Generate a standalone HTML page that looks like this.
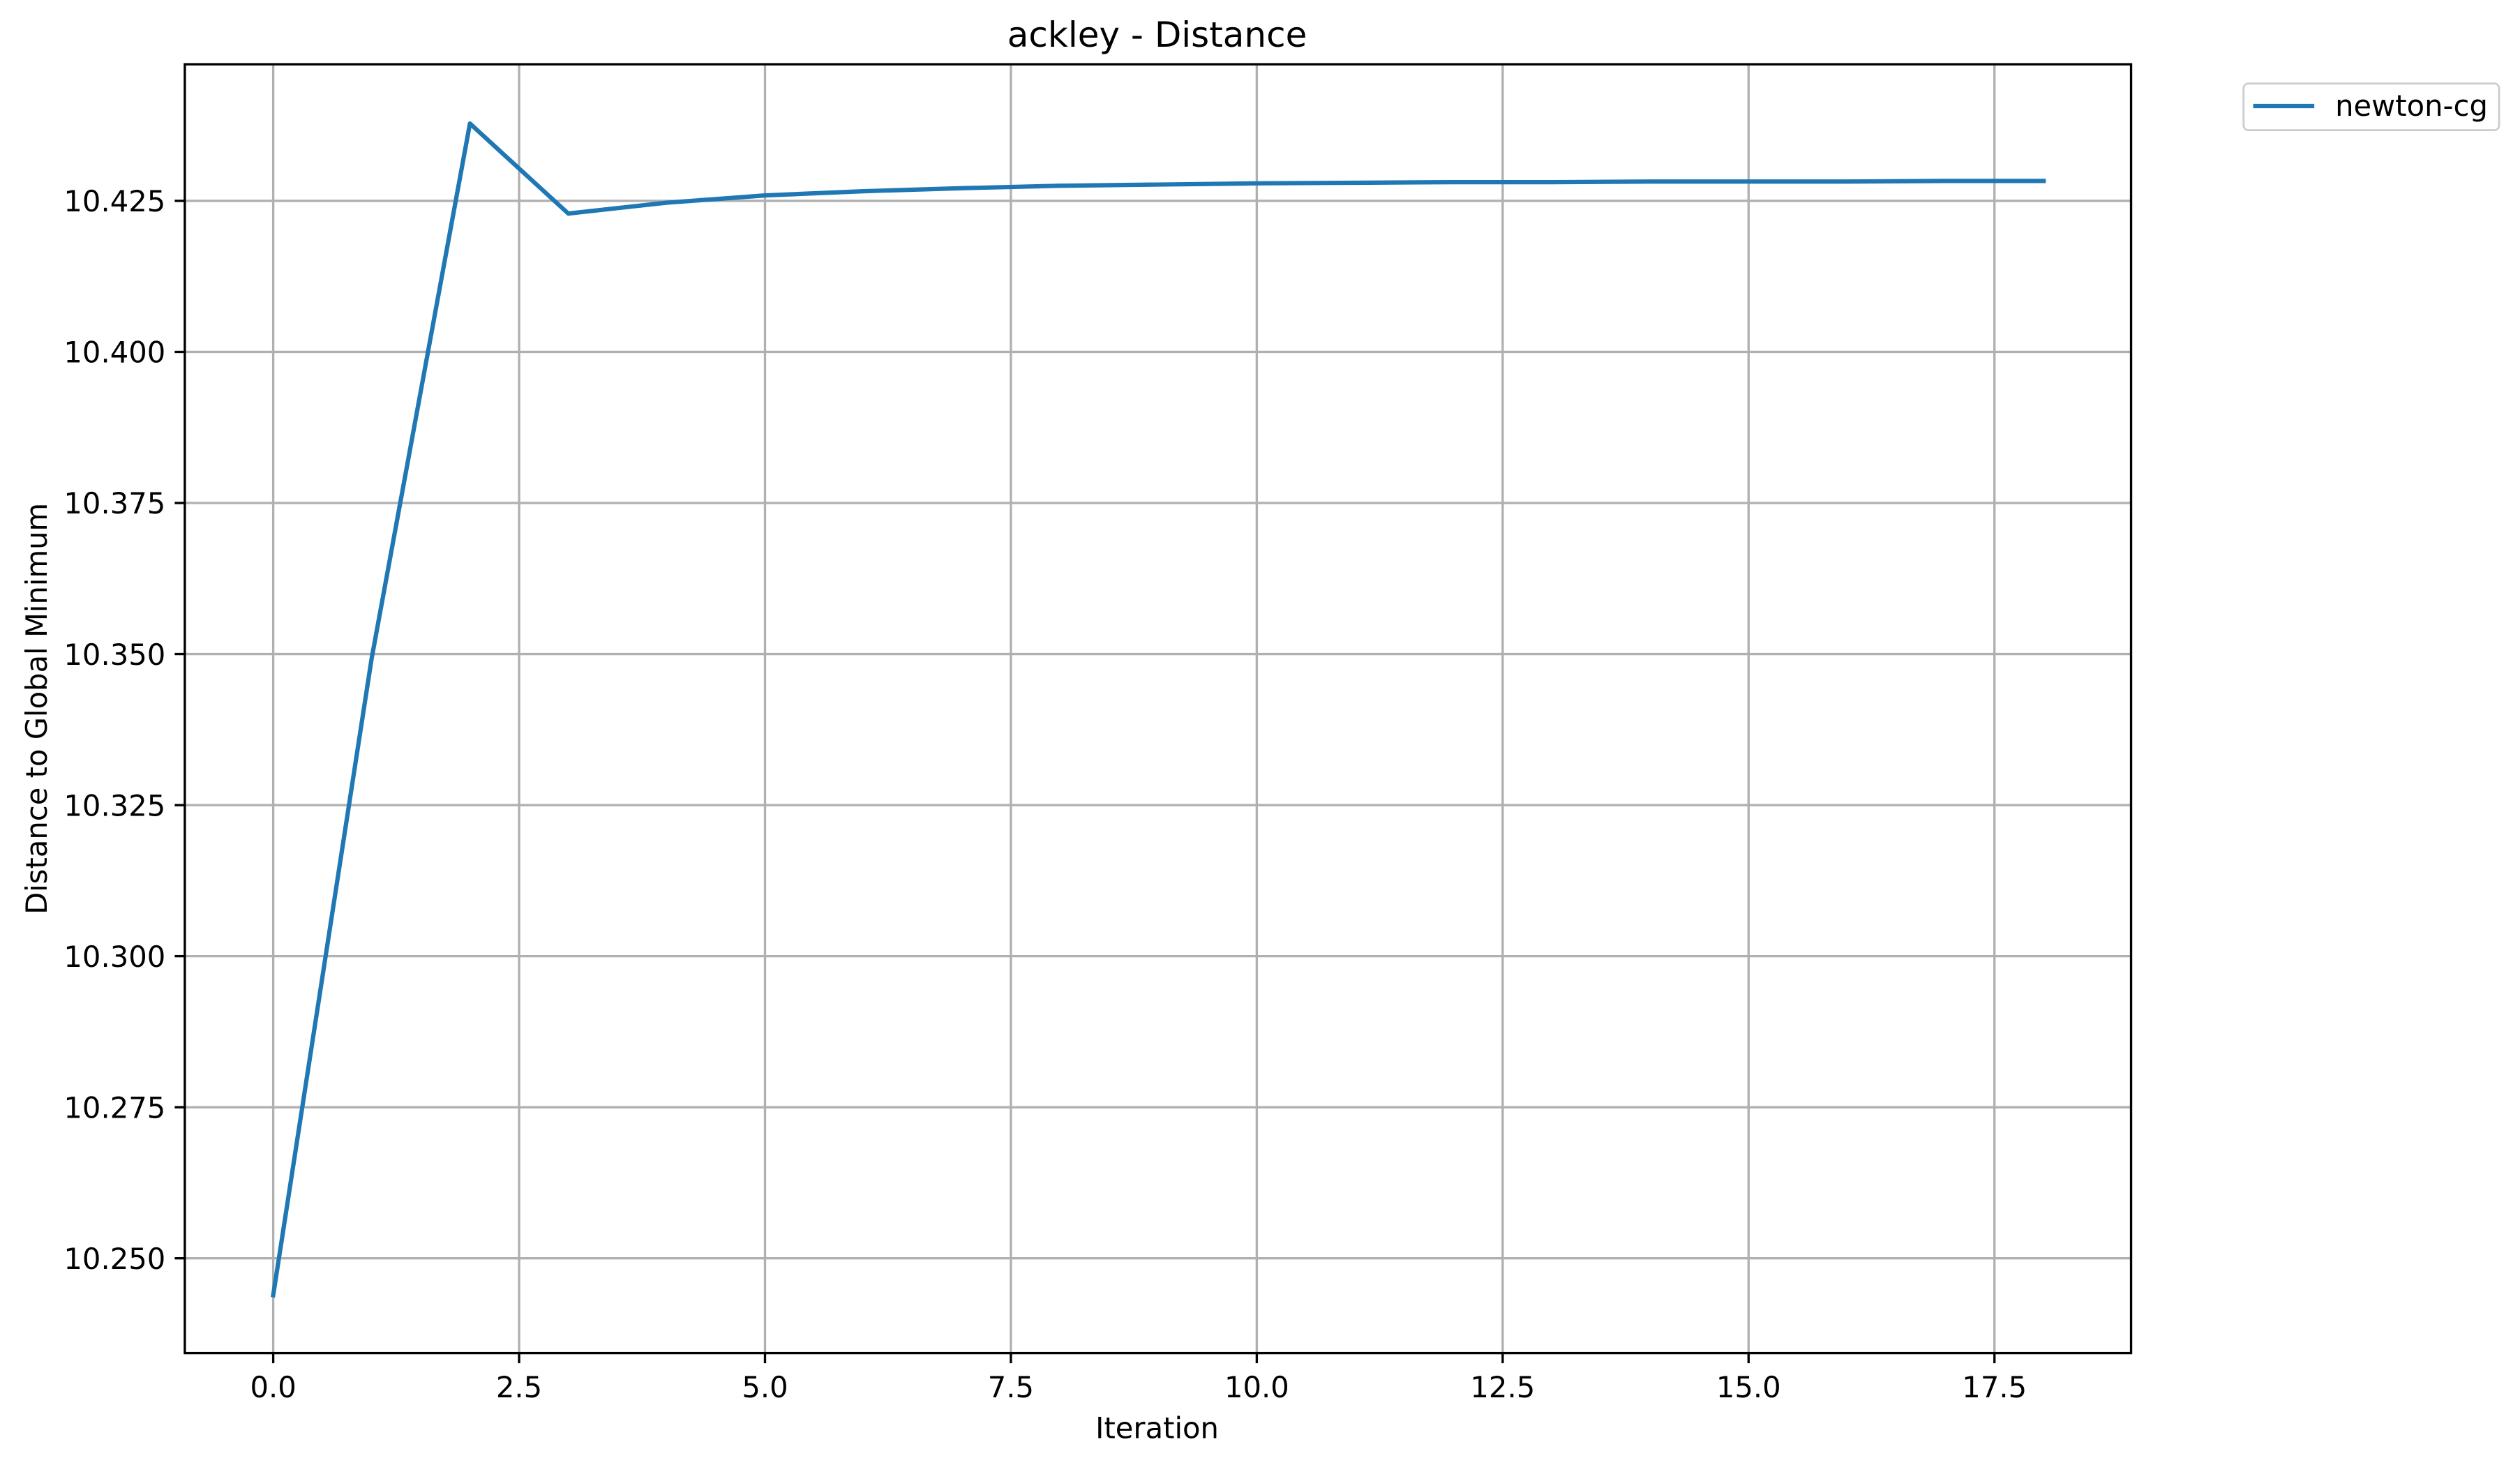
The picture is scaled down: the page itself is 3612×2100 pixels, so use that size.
<!DOCTYPE html>
<html><head><meta charset="utf-8"><style>
html,body{margin:0;padding:0;background:#fff;}
svg{display:block;font-family:"DejaVu Sans","Liberation Sans",sans-serif;}
</style></head><body>
<svg id="chart" width="3612" height="2100" viewBox="0 0 1568 911.63" xmlns="http://www.w3.org/2000/svg">
<rect width="1568" height="911.63" fill="#fff"/>
<g id="grid"></g>
<g id="xt"></g>
<g id="yt"></g>
<polyline id="series" fill="none" stroke="#1f77b4" stroke-width="2.7" stroke-linejoin="round" stroke-linecap="square"/>
<rect x="115" y="40" width="1211" height="802" fill="none" stroke="#000" stroke-width="1.45"/>
<text x="720" y="29" font-size="21.7" text-anchor="middle">ackley - Distance</text>
<text x="720" y="895" font-size="18.1" text-anchor="middle">Iteration</text>
<text transform="translate(29,441) rotate(-90)" font-size="18.1" text-anchor="middle">Distance to Global Minimum</text>
<g>
<rect x="1396" y="52" width="159" height="29" rx="3" fill="#fff" stroke="#ccc" stroke-width="1.2"/>
<line x1="1402" y1="66" x2="1440" y2="66" stroke="#1f77b4" stroke-width="2.7"/>
<text x="1453" y="72" font-size="18.1">newton-cg</text>
</g>
</svg>
<script>
const iterations=[0,1,2,3,4,5,6,7,8,9,10,11,12,13,14,15,16,17,18];
const distances=[10.2439,10.3492,10.4378,10.4229,10.4247,10.4259,10.4266,10.4271,10.4275,10.4277,10.4279,10.4280,10.4281,10.4281,10.4282,10.4282,10.4282,10.4283,10.4283];
const xTicks=[0,2.5,5,7.5,10,12.5,15,17.5];
const xTickLabels=["0.0","2.5","5.0","7.5","10.0","12.5","15.0","17.5"];
const yTicks=[10.25,10.275,10.3,10.325,10.35,10.375,10.4,10.425];
const yTickLabels=["10.250","10.275","10.300","10.325","10.350","10.375","10.400","10.425"];
const NS="http://www.w3.org/2000/svg";
function xs(v){return 170+v*(1241-170)/17.5;}
function ys(v){return 783-(v-10.25)*(783-125)/0.175;}
const grid=document.getElementById('grid'),xt=document.getElementById('xt'),yt=document.getElementById('yt');
function mk(t,a,p){const e=document.createElementNS(NS,t);for(const k in a)e.setAttribute(k,a[k]);p.appendChild(e);return e;}
xTicks.forEach((v,i)=>{const x=xs(v);
 const g=mk('line',{x1:x,x2:x,y1:40,y2:842,stroke:'#b0b0b0','stroke-width':1.45},grid);
 
 
 const t=mk('line',{x1:x,x2:x,y1:842,y2:848.3,stroke:'#000','stroke-width':1.45},xt);
 
 
 const l=mk('text',{x:x,y:869.5,'font-size':18.1,'text-anchor':'middle'},xt);l.textContent=xTickLabels[i];
 
 
});
yTicks.forEach((v,i)=>{const y=ys(v);
 const g=mk('line',{x1:115,x2:1326,y1:y,y2:y,stroke:'#b0b0b0','stroke-width':1.45},grid);
 
 
 const t=mk('line',{x1:108.7,x2:115,y1:y,y2:y,stroke:'#000','stroke-width':1.45},yt);
 
 
 const l=mk('text',{x:103,y:y+6.6,'font-size':18.1,'text-anchor':'end'},yt);l.textContent=yTickLabels[i];
 
 
});
document.getElementById('series').setAttribute('points',iterations.map((v,i)=>xs(v)+','+ys(distances[i])).join(' '));
</script>
</body></html>
